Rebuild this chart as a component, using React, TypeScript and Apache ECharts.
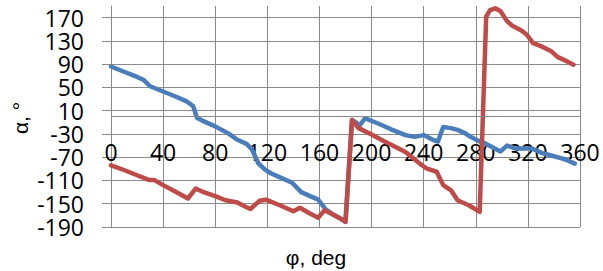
import React, { useEffect, useRef } from "react";
import * as echarts from "echarts";

// Blue series (phi in degrees, alpha in degrees)
const bluePhi = [0, 10, 20, 25, 30, 40, 50, 58, 63, 66, 70, 80, 90, 97, 104, 108, 113, 118, 123, 131, 139, 146, 152, 159, 165, 170, 175, 180, 185, 191, 195, 205, 215, 226, 233, 240, 247, 251, 255, 261, 266, 272, 276, 283, 287, 292, 297, 299, 304, 310, 317, 323, 331, 338, 346, 351, 356];
const blueAlpha = [86, 77, 68, 63, 52, 43, 34, 26, 18, -2, -7, -17, -29, -40, -47, -56, -80, -91, -98, -106, -114, -130, -136, -143, -160, -168, -174, -181, -6, -15, -3, -12, -22, -32, -35, -32, -40, -43, -18, -20, -23, -29, -35, -43, -46, -52, -58, -60, -50, -55, -55, -55, -63, -67, -72, -76, -81];

// Red series
const redPhi = [0, 10, 20, 29, 33, 40, 50, 59, 65, 70, 80, 88, 97, 104, 107, 114, 119, 130, 140, 145, 152, 159, 164, 170, 175, 180, 185, 190, 200, 210, 220, 226, 237, 242, 250, 255, 261, 266, 275, 283, 288, 291, 295, 299, 304, 308, 315, 319, 324, 331, 338, 343, 349, 355];
const redAlpha = [-84, -92, -101, -109, -109, -118, -130, -141, -124, -129, -137, -144, -148, -156, -159, -145, -143, -153, -163, -157, -166, -174, -161, -168, -174, -181, -6, -20, -31, -43, -54, -61, -81, -89, -95, -118, -127, -144, -153, -164, 172, 183, 186, 181, 164, 156, 148, 141, 126, 120, 112, 102, 96, 89];

// Axis settings
const phiMin = 0;
const phiMax = 360;
const phiStep = 40;
const alphaMin = -190;
const alphaMax = 190;
const alphaStep = 40;
const zeroLine = 0;

const xName = "φ, deg";
const yName = "α, °";

export default function App() {
  const ref = useRef<HTMLDivElement>(null);
  useEffect(() => {
    const chart = echarts.init(ref.current!, null, { renderer: "svg" });
    const gridColor = "#8a8a8a";
    const labelFont = "'Open Sans', 'Liberation Sans', sans-serif";
    chart.setOption({
      animation: false,
      backgroundColor: "#ffffff",
      grid: { left: 111, right: 23, top: 6, bottom: 44 },
      xAxis: {
        type: "value",
        min: phiMin,
        max: phiMax,
        interval: phiStep,
        axisLine: { show: false, onZero: false },
        axisTick: { show: false },
        axisLabel: {
          show: true,
          margin: -85,
          fontSize: 23,
          lineHeight: 20,
          color: "#000000",
          fontFamily: labelFont,
          showMinLabel: true,
          showMaxLabel: true,
          hideOverlap: false,
        },
        splitLine: { show: true, lineStyle: { color: gridColor, width: 1 } },
      },
      yAxis: {
        type: "value",
        min: alphaMin,
        max: alphaMax,
        interval: alphaStep,
        axisLine: { show: true, onZero: false, lineStyle: { color: gridColor, width: 1 } },
        axisTick: { show: true, length: 9, lineStyle: { color: gridColor, width: 1 } },
        axisLabel: {
          margin: 27,
          fontSize: 23,
          lineHeight: 20,
          color: "#000000",
          fontFamily: labelFont,
          showMinLabel: true,
          showMaxLabel: false,
        },
        splitLine: { show: true, showMaxLine: false, lineStyle: { color: gridColor, width: 1 } },
      },
      series: [
        {
          type: "line",
          data: [],
          z: 1,
          silent: true,
          markLine: {
            silent: true,
            symbol: "none",
            label: { show: false },
            lineStyle: { color: gridColor, width: 1, type: "solid" },
            data: [{ yAxis: zeroLine }],
          },
        },
        {
          type: "line",
          data: bluePhi.map((p, i) => [p, blueAlpha[i]]),
          symbol: "none",
          showSymbol: false,
          lineStyle: { color: "#4A7EBB", width: 4.5, cap: "round", join: "round" },
          itemStyle: { color: "#4A7EBB" },
          z: 2,
        },
        {
          type: "line",
          data: redPhi.map((p, i) => [p, redAlpha[i]]),
          symbol: "none",
          showSymbol: false,
          lineStyle: { color: "#BE4B48", width: 4.5, cap: "round", join: "round" },
          itemStyle: { color: "#BE4B48" },
          z: 3,
        },
      ],
      graphic: [
        {
          type: "text",
          x: 316,
          y: 257,
          style: {
            text: xName,
            fontSize: 21,
            fontFamily: "'Liberation Sans', Arial, sans-serif",
            fill: "#000000",
            align: "center",
            verticalAlign: "middle",
          },
        },
        {
          type: "text",
          x: 20,
          y: 118,
          rotation: Math.PI / 2,
          style: {
            text: yName,
            fontSize: 21,
            fontFamily: "'Liberation Sans', Arial, sans-serif",
            fill: "#000000",
            align: "center",
            verticalAlign: "middle",
          },
        },
      ],
    });
    return () => chart.dispose();
  }, []);
  return (
    <div
      ref={ref}
      style={{ position: "absolute", left: 0, top: 0, width: 603, height: 271 }}
    />
  );
}
